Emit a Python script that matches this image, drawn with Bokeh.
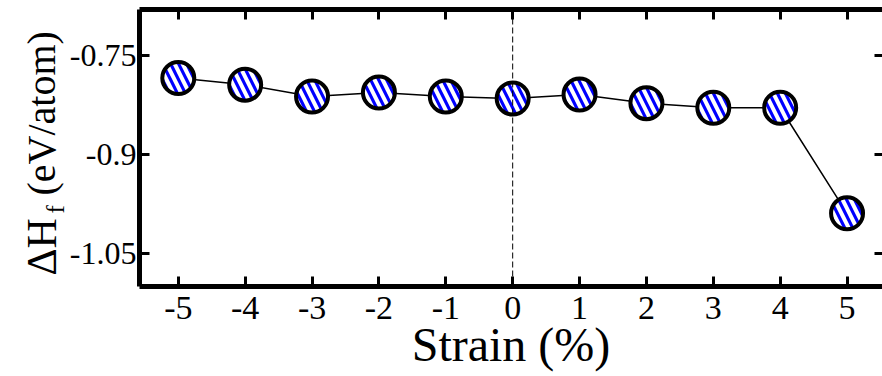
import math
from bokeh.plotting import figure
from bokeh.layouts import row
from bokeh.models import Range1d, LinearAxis, FixedTicker, Span, Label, ColumnDataSource
from bokeh.embed import file_html
from bokeh.resources import INLINE

# ---- data ----
strain = [-5, -4, -3, -2, -1, 0, 1, 2, 3, 4, 5]
dHf = [-0.784, -0.794, -0.812, -0.806, -0.812, -0.815, -0.809, -0.822, -0.829, -0.829, -0.989]
x_ticks = [-5, -4, -3, -2, -1, 0, 1, 2, 3, 4, 5]
x_tick_labels = ["-5", "-4", "-3", "-2", "-1", "0", "1", "2", "3", "4", "5"]
y_ticks = [-0.75, -0.9, -1.05]
y_tick_labels = ["-0.75", "-0.9", "-1.05"]
x_title = "Strain (%)"
y_title_main = "ΔH"
y_title_sub = "f"
y_title_rest = "(eV/atom)"

FONT = "Liberation Serif"
W, H = 882, 376
LW = 66                      # width of the strip that holds the y title
FL, FR, FT, FB = 136, 882, 9, 286
x0, x1 = -5.58, 5.53
y0, y1 = -1.1, -0.68

# ---- main plot ----
p = figure(width=W - LW, height=H, output_backend="svg", toolbar_location=None,
           title=None,
           x_range=Range1d(x0, x1), y_range=Range1d(y0, y1),
           min_border_left=FL - LW, min_border_right=W - FR,
           min_border_top=FT, min_border_bottom=H - FB,
           background_fill_color="white", border_fill_color="white")
p.outline_line_color = None
p.grid.visible = False


def style_axis(ax, show_labels=True, line=True, size="34px"):
    ax.axis_line_width = 5
    ax.axis_line_color = "black" if line else None
    ax.major_tick_in = 10
    ax.major_tick_out = 0
    ax.major_tick_line_width = 3
    ax.major_tick_line_color = "black"
    ax.minor_tick_line_color = None
    if show_labels:
        ax.major_label_text_font = FONT
        ax.major_label_text_font_size = size
        ax.major_label_text_color = "black"
    else:
        ax.major_label_text_font_size = "0px"
        ax.major_label_standoff = 0
        ax.major_label_text_color = None


xa = p.xaxis[0]
xa.ticker = FixedTicker(ticks=x_ticks)
xa.major_label_overrides = {t: l for t, l in zip(x_ticks, x_tick_labels)}
style_axis(xa)
xa.major_label_standoff = 10
xa.axis_label = x_title
xa.axis_label_text_font = FONT
xa.axis_label_text_font_size = "48px"
xa.axis_label_text_font_style = "normal"
xa.axis_label_text_color = "black"
xa.axis_label_standoff = -4

ya = p.yaxis[0]
ya.ticker = FixedTicker(ticks=y_ticks)
ya.major_label_overrides = {t: l for t, l in zip(y_ticks, y_tick_labels)}
style_axis(ya, size="32px")
ya.major_label_standoff = 3

top = LinearAxis(ticker=FixedTicker(ticks=x_ticks))
style_axis(top, show_labels=False)
p.add_layout(top, "above")

right = LinearAxis(ticker=FixedTicker(ticks=y_ticks))
style_axis(right, show_labels=False, line=False)
right.major_tick_in = 8
p.add_layout(right, "right")

# dashed zero-strain line
p.add_layout(Span(location=0, dimension="height", line_color="black",
                  line_width=1, line_dash="6 3"))

src = ColumnDataSource(dict(x=strain, y=dHf))
p.line("x", "y", source=src, line_color="black", line_width=1.5)
p.scatter("x", "y", source=src, marker="circle", size=32,
          fill_color="#0000ff", line_color="black", line_width=4,
          hatch_pattern="\\", hatch_color="white", hatch_weight=4, hatch_scale=16)

# ---- narrow strip on the left that carries the y title (with subscript) ----
# its frame is given the same vertical extent as the main frame (row aligns them),
# and its y range maps straight to pixel rows (top = FT, bottom = FB)
t = figure(width=LW, height=H, output_backend="svg", toolbar_location=None,
           title=None,
           x_range=Range1d(0, LW), y_range=Range1d(FB, FT),
           x_axis_type=None, y_axis_type=None,
           min_border_left=0, min_border_right=0,
           min_border_top=FT, min_border_bottom=H - FB,
           background_fill_color="white", border_fill_color="white")
t.outline_line_color = None
t.grid.visible = False


def lab(text, px, py, size):
    # px, py: pixel position measured from the strip's top-left corner
    return Label(x=px, y=py, text=text, text_font=FONT, text_font_size=size,
                 angle=math.pi / 2, text_align="left",
                 text_baseline="alphabetic", text_color="black")


t.add_layout(lab(y_title_main, 41, 275, "42px"))
t.add_layout(lab(y_title_sub, 55, 213, "25px"))
t.add_layout(lab(y_title_rest, 41, 195, "40px"))

layout = row(t, p, spacing=0)
open("out.html", "w").write(file_html(layout, INLINE))
